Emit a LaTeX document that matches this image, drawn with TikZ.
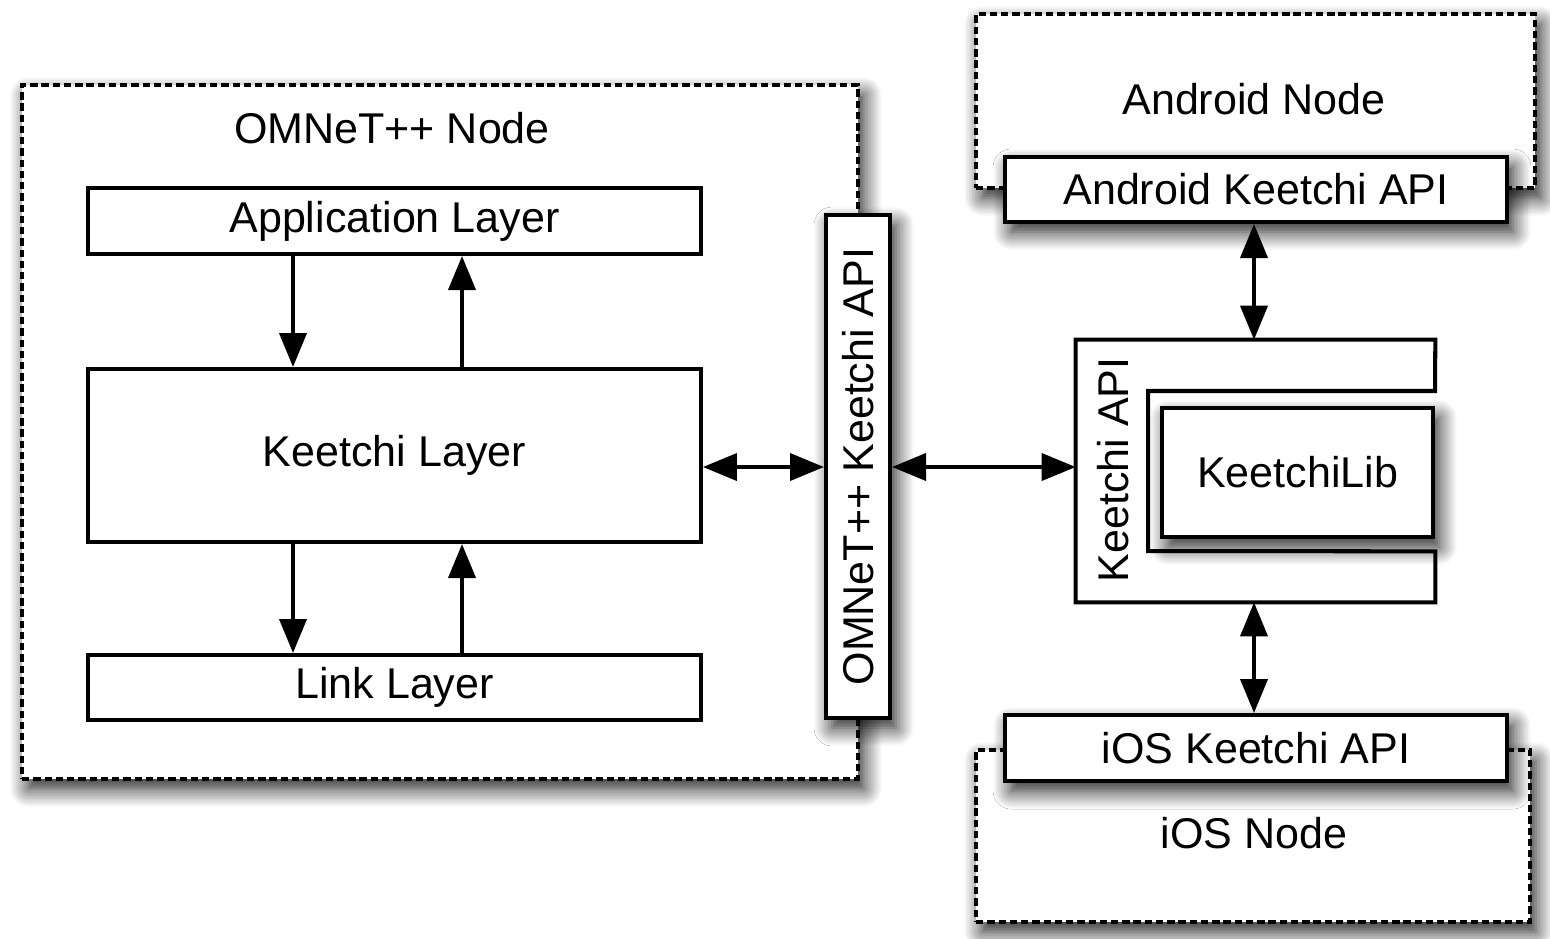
\documentclass[tikz,border=0pt]{standalone}
\usepackage{fontspec}
\setmainfont{Liberation Sans}
\usetikzlibrary{arrows.meta,shadows.blur}
\begin{document}
\begin{tikzpicture}[x=0.02cm,y=-0.02cm,
  every node/.style={font=\fontsize{24.5}{29}\selectfont},
  box/.style={draw,line width=2.3pt,fill=white,inner sep=0pt},
  dbox/.style={draw,line width=2pt,fill=white,inner sep=0pt,dash pattern=on 4.2pt off 2.2pt},
  shad/.style={blur shadow={shadow xshift=0.12cm,shadow yshift=-0.2cm,shadow blur radius=0.36cm,shadow blur steps=12,shadow opacity=90}},
  arr/.style={line width=2.2pt,-{Triangle[length=0.68cm,width=0.54cm]}},
  darr/.style={line width=2.2pt,{Triangle[length=0.68cm,width=0.54cm]}-{Triangle[length=0.68cm,width=0.54cm]}}]
\useasboundingbox (0,0) rectangle (1550,938);
% OMNeT++ node
\node[dbox,shad,minimum width=16.72cm,minimum height=13.88cm] (omnet) at (440,432) {};
\node (omtitle) at (392,128) {OMNeT++ Node};
\node[box,minimum width=12.26cm,minimum height=1.32cm] (app) at (394.5,221) {Application Layer};
\node[box,minimum width=12.26cm,minimum height=3.46cm] (kl) at (394.5,455.5) {Keetchi Layer};
\node[box,minimum width=12.26cm,minimum height=1.3cm] (link) at (394.5,687.5) {Link Layer};
\node[box,shad,minimum width=1.28cm,minimum height=10.06cm] (oapi) at (858,466.5) {\rotatebox{90}{OMNeT++ Keetchi API}};
\coordinate (xa) at (293,0);
\coordinate (xb) at (462,0);
\draw[arr] (app.south -| xa) -- (kl.north -| xa);
\draw[arr] (kl.north -| xb) -- (app.south -| xb);
\draw[arr] (kl.south -| xa) -- (link.north -| xa);
\draw[arr] (link.north -| xb) -- (kl.south -| xb);
% Android
\node[dbox,shad,minimum width=11.18cm,minimum height=3.48cm] (android) at (1255.5,101) {};
\node (androidt) at (1254,99) {Android Node};
\node[box,shad,minimum width=10.04cm,minimum height=1.3cm] (aapi) at (1256,189.5) {Android Keetchi API};
% iOS
\node[dbox,shad,minimum width=11.08cm,minimum height=3.44cm] (ios) at (1253,836) {};
\node (iost) at (1254,833) {iOS Node};
\node[box,shad,minimum width=10.04cm,minimum height=1.32cm] (iapi) at (1256,748) {iOS Keetchi API};
% Keetchi API
\node[minimum width=7.18cm,minimum height=5.24cm,inner sep=0pt] (kapi) at (1255.5,471) {};
\draw[line width=2.3pt] (kapi.north east) -- (kapi.north west) -- (kapi.south west) -- (kapi.south east) -- ++(0,-51) -- (1148,551) -- (1148,391) -- (1435,391) -- cycle;
\node[rotate=90] (kapit) at (1113,470) {Keetchi API};
\node[box,shad,minimum width=5.42cm,minimum height=2.58cm] (klib) at (1297.5,472.5) {KeetchiLib};
% connectors
\coordinate (ym) at (0,467);
\coordinate (xc) at (1254,0);
\draw[darr] (kl.east |- ym) -- (oapi.west |- ym);
\draw[darr] (oapi.east |- ym) -- (kapi.west |- ym);
\draw[darr] (aapi.south -| xc) -- (kapi.north -| xc);
\draw[darr] (kapi.south -| xc) -- (iapi.north -| xc);
\end{tikzpicture}
\end{document}
